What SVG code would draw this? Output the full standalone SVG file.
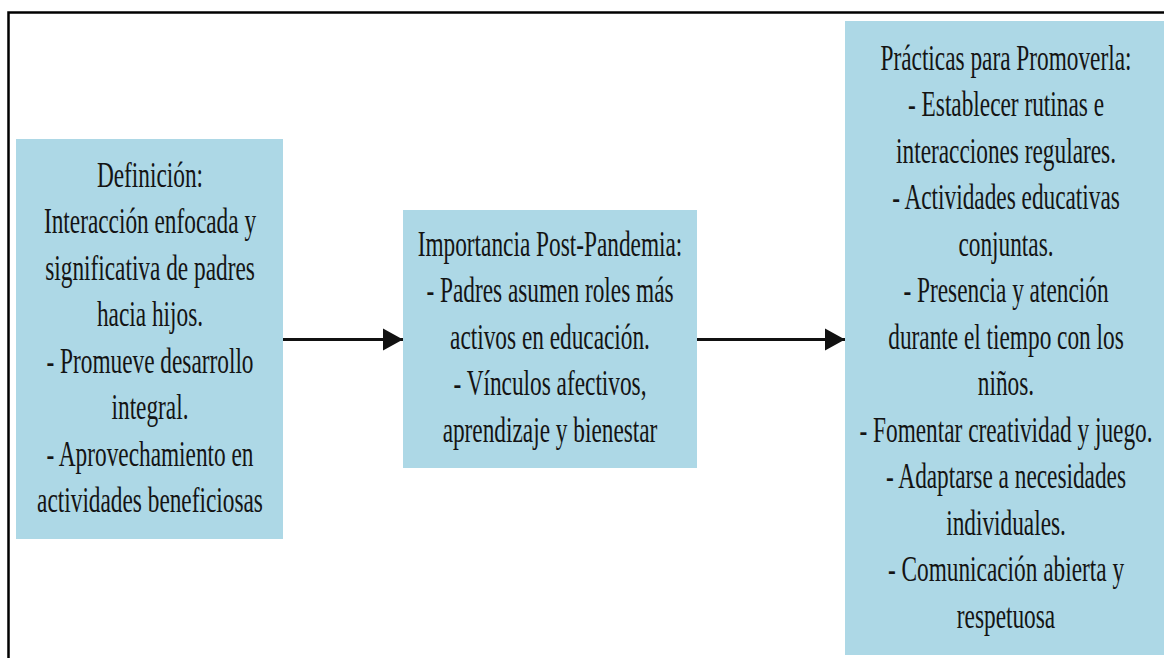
<svg xmlns="http://www.w3.org/2000/svg" width="1164" height="658" viewBox="0 0 1164 658">
  <style>
    .box { fill: #ADD8E6; }
    .lbl { font-family: "Liberation Serif", "Times New Roman", serif; font-size: 35px; fill: #141414; text-anchor: middle; }
    .conn { stroke: #111; stroke-width: 3; fill: none; }
    .frame { stroke: #000; stroke-width: 2.5; fill: none; }
  </style>
  <defs>
    <marker id="arrow" markerUnits="userSpaceOnUse" markerWidth="22" markerHeight="24" refX="21" refY="12" orient="auto">
      <path d="M1,1 L21,12 L1,23 Z" fill="#111"/>
    </marker>
  </defs>
  <rect class="frame" x="8.5" y="12.5" width="1170" height="660"/>

  <g id="node-definicion">
    <rect class="box" x="16" y="139" width="267" height="400"/>
    <g transform="translate(150 0) scale(0.666 1)">
      <text class="lbl" x="0" y="187">Definición:</text>
      <text class="lbl" x="0" y="233.5">Interacción enfocada y</text>
      <text class="lbl" x="0" y="280">significativa de padres</text>
      <text class="lbl" x="0" y="326.5">hacia hijos.</text>
      <text class="lbl" x="0" y="373">- Promueve desarrollo</text>
      <text class="lbl" x="0" y="419.5">integral.</text>
      <text class="lbl" x="0" y="466">- Aprovechamiento en</text>
      <text class="lbl" x="0" y="512.5">actividades beneficiosas</text>
    </g>
  </g>

  <g id="node-importancia">
    <rect class="box" x="403" y="210" width="294" height="258"/>
    <g transform="translate(550 0) scale(0.666 1)">
      <text class="lbl" x="0" y="256">Importancia Post-Pandemia:</text>
      <text class="lbl" x="0" y="302.5">- Padres asumen roles más</text>
      <text class="lbl" x="0" y="349">activos en educación.</text>
      <text class="lbl" x="0" y="395.5">- Vínculos afectivos,</text>
      <text class="lbl" x="0" y="442">aprendizaje y bienestar</text>
    </g>
  </g>

  <g id="node-practicas">
    <rect class="box" x="845" y="21" width="330" height="634"/>
    <g transform="translate(1006 0) scale(0.666 1)">
      <text class="lbl" x="0" y="70">Prácticas para Promoverla:</text>
      <text class="lbl" x="0" y="116.5">- Establecer rutinas e</text>
      <text class="lbl" x="0" y="163">interacciones regulares.</text>
      <text class="lbl" x="0" y="209.5">- Actividades educativas</text>
      <text class="lbl" x="0" y="256">conjuntas.</text>
      <text class="lbl" x="0" y="302.5">- Presencia y atención</text>
      <text class="lbl" x="0" y="349">durante el tiempo con los</text>
      <text class="lbl" x="0" y="395.5">niños.</text>
      <text class="lbl" x="0" y="442">- Fomentar creatividad y juego.</text>
      <text class="lbl" x="0" y="488.5">- Adaptarse a necesidades</text>
      <text class="lbl" x="0" y="535">individuales.</text>
      <text class="lbl" x="0" y="581.5">- Comunicación abierta y</text>
      <text class="lbl" x="0" y="628">respetuosa</text>
    </g>
  </g>

  <g id="connectors">
    <line class="conn" x1="283" y1="339.5" x2="403" y2="339.5" marker-end="url(#arrow)"/>
    <line class="conn" x1="697" y1="339.5" x2="845" y2="339.5" marker-end="url(#arrow)"/>
  </g>
</svg>
